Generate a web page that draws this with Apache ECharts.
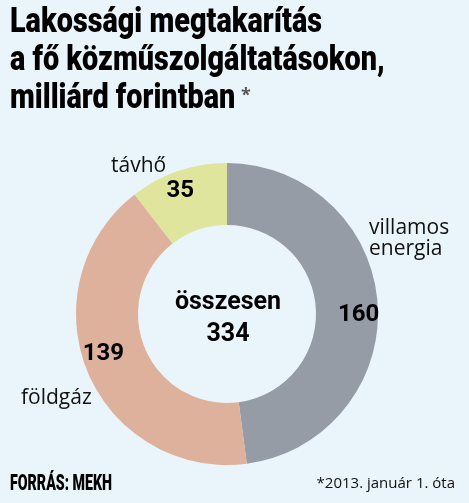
<!DOCTYPE html>
<html>
<head>
<meta charset="utf-8">
<script src="https://cdn.jsdelivr.net/npm/echarts@6/dist/echarts.min.js"></script>
<style>
  html, body { margin: 0; padding: 0; background: #eaf5fb; }
  #main { width: 469px; height: 503px; }
</style>
</head>
<body>
<div id="main"></div>
<script>
// adatok
var categories = ['villamos\nenergia', 'földgáz', 'távhő'];
var values = [160, 139, 35];
var colors = ['#959ca5', '#deb19d', '#dfe59c'];
var total = 334;
var titleLines = ['Lakossági megtakarítás', 'a fő közműszolgáltatásokon,', 'milliárd forintban'];

// a számcímkék eltolása a gyűrű közepéhez képest
var valueOffsets = [[9, 9], [-10, -7], [-7, -7]];
// a kategórianevek helye
var namePos = [
  { x: 369, y: 239, align: 'left' },
  { x: 21, y: 398, align: 'left' },
  { x: 111, y: 166, align: 'left' }
];

// keskenyített betű: a szöveg szélességét a mintához igazítjuk
function squeeze (text, font, width) {
  var ctx = document.createElement('canvas').getContext('2d');
  ctx.font = font;
  return width / ctx.measureText(text).width;
}
var titleFont = '900 35px Roboto';
var titleScale = squeeze(titleLines[0], titleFont, 312);
var srcFont = '900 22px Roboto';
var srcScale = squeeze('FORRÁS: MEKH', srcFont, 102);

var chart = echarts.init(document.getElementById('main'));

var valueData = values.map(function (v, i) {
  return {
    name: categories[i],
    value: v,
    itemStyle: { color: colors[i] },
    label: { offset: valueOffsets[i] }
  };
});
var nameData = values.map(function (v, i) {
  return { name: categories[i], value: v };
});

var option = {
  backgroundColor: '#eaf5fb',
  animation: false,
  graphic: [
    {
      type: 'text',
      x: 10,
      y: 4,
      scaleX: titleScale,
      style: {
        text: titleLines.join('\n'),
        font: titleFont,
        lineHeight: 38,
        fill: '#000'
      }
    },
    {
      type: 'text',
      left: 241,
      top: 87,
      style: { text: '*', font: 'bold 18px "Open Sans"', fill: '#555' }
    },
    {
      type: 'text',
      x: 228,
      y: 319,
      style: {
        text: 'összesen\n' + total,
        font: 'bold 25px Roboto',
        lineHeight: 32,
        fill: '#000',
        align: 'center',
        verticalAlign: 'middle'
      }
    },
    {
      type: 'text',
      x: 10,
      y: 484,
      scaleX: srcScale,
      style: {
        text: 'FORRÁS: MEKH',
        font: srcFont,
        fill: '#000',
        verticalAlign: 'middle'
      }
    },
    {
      type: 'text',
      x: 455,
      y: 484,
      style: {
        text: '*2013. január 1. óta',
        font: '15px "Open Sans"',
        fill: '#111',
        align: 'right',
        verticalAlign: 'middle'
      }
    }
  ],
  series: [
    {
      type: 'pie',
      center: [227, 314],
      radius: [89, 151],
      startAngle: 90,
      clockwise: true,
      silent: true,
      itemStyle: { borderWidth: 0 },
      label: {
        show: true,
        position: 'inside',
        formatter: '{c}',
        fontFamily: 'Roboto',
        fontWeight: 'bold',
        fontSize: 24,
        color: '#000'
      },
      labelLine: { show: false },
      data: valueData
    },
    {
      type: 'pie',
      center: [227, 314],
      radius: [89, 151],
      startAngle: 90,
      clockwise: true,
      silent: true,
      itemStyle: { color: 'transparent', borderWidth: 0 },
      label: {
        show: true,
        position: 'outside',
        overflow: 'none',
        formatter: '{b}',
        fontFamily: 'Open Sans',
        fontSize: 21,
        lineHeight: 21,
        color: '#111'
      },
      labelLine: { show: false },
      labelLayout: function (params) {
        var p = namePos[params.dataIndex];
        return { x: p.x, y: p.y, align: p.align, verticalAlign: 'middle' };
      },
      data: nameData
    }
  ]
};

chart.setOption(option);
</script>
</body>
</html>
